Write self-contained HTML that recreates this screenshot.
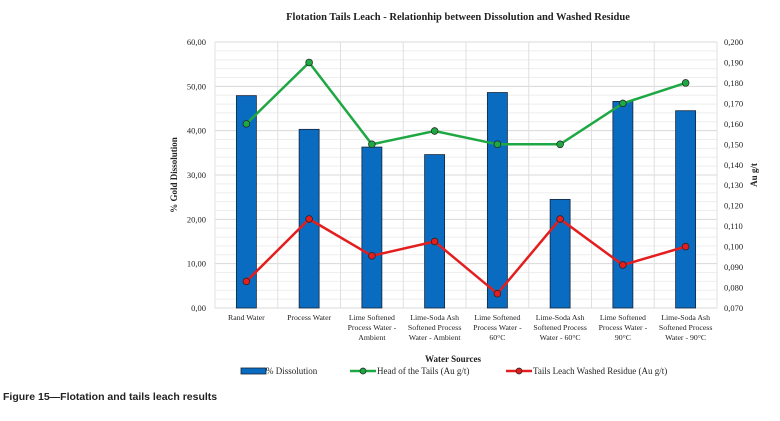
<!DOCTYPE html>
<html><head><meta charset="utf-8"><style>
body{margin:0;background:#fff;width:780px;height:421px;overflow:hidden}
svg{display:block}
.s{font-family:"Liberation Serif",serif;fill:#222}
</style></head><body>
<svg id="c" width="780" height="421"></svg>
<script>
const categories=[["Rand Water"],["Process Water"],["Lime Softened","Process Water -","Ambient"],["Lime-Soda Ash","Softened Process","Water - Ambient"],["Lime Softened","Process Water -","60°C"],["Lime-Soda Ash","Softened Process","Water - 60°C"],["Lime Softened","Process Water -","90°C"],["Lime-Soda Ash","Softened Process","Water - 90°C"]];
const dissolution=[47.9,40.3,36.3,34.6,48.6,24.5,46.6,44.5];
const headTails=[0.160,0.190,0.150,0.1565,0.150,0.150,0.170,0.180];
const residue=[0.083,0.1135,0.0955,0.1025,0.077,0.1135,0.091,0.100];
const leftTicks=["0,00","10,00","20,00","30,00","40,00","50,00","60,00"];
const rightTicks=["0,070","0,080","0,090","0,100","0,110","0,120","0,130","0,140","0,150","0,160","0,170","0,180","0,190","0,200"];

const svg=document.getElementById('c');const NS='http://www.w3.org/2000/svg';
function mk(t,a,p){const e=document.createElementNS(NS,t);for(const k in a)e.setAttribute(k,a[k]);(p||svg).appendChild(e);return e;}
const X0=215,X1=717,Y0=308,Y1=42,bw=(X1-X0)/categories.length;
const yL=v=>Y0-(v/60)*(Y0-Y1);
const yR=v=>Y0-((v-0.07)/0.13)*(Y0-Y1);
const xC=i=>X0+bw*(i+0.5);
for(let k=0;k<=30;k++){const y=Y0-k*(Y0-Y1)/30;const g=mk('line',{x1:X0,x2:X1,y1:y,y2:y,stroke:k%5==0?'#d8d8d8':'#eeeeee','stroke-width':1});}
for(let i=0;i<=categories.length;i++){const x=X0+i*bw;const g=mk('line',{x1:x,x2:x,y1:Y1,y2:Y0,stroke:'#e0e0e0'});}
let t=mk('text',{x:458,y:20,'text-anchor':'middle',class:'s','font-size':'10.5','font-weight':'bold'});t.textContent='Flotation Tails Leach - Relationhip between Dissolution and Washed Residue';

leftTicks.forEach((l,i)=>{const e=mk('text',{x:206,y:yL(i*10)+3,'text-anchor':'end',class:'s','font-size':'8.5'});e.textContent=l;});
rightTicks.forEach((l,i)=>{const e=mk('text',{x:724,y:yR(0.07+i*0.01)+3,class:'s','font-size':'8.5'});e.textContent=l;});
t=mk('text',{x:0,y:0,transform:'translate(177,175) rotate(-90)','text-anchor':'middle',class:'s','font-size':'9','font-weight':'bold'});t.textContent='% Gold Dissolution';
t=mk('text',{x:0,y:0,transform:'translate(757,175) rotate(-90)','text-anchor':'middle',class:'s','font-size':'9','font-weight':'bold'});t.textContent='Au g/t';
dissolution.forEach((v,i)=>{const b=mk('rect',{x:xC(i)-10,y:yL(v),width:20,height:Y0-yL(v),fill:'#0a6cc0',stroke:'#13243a','stroke-width':0.8});});
function line(arr,col,name){const p=mk('polyline',{points:arr.map((v,i)=>xC(i)+','+yR(v)).join(' '),fill:'none',stroke:col,'stroke-width':2.5});
arr.forEach((v,i)=>{const c=mk('circle',{cx:xC(i),cy:yR(v),r:3.4,fill:col,stroke:'#222','stroke-width':0.7});});}
line(headTails,'#1ea843','head-tails');
line(residue,'#e41e1e','residue');
categories.forEach((ls,i)=>ls.forEach((l,j)=>{const e=mk('text',{x:xC(i),y:320+j*10,'text-anchor':'middle',class:'s','font-size':'7.8'});e.textContent=l;}));
t=mk('text',{x:453,y:362,'text-anchor':'middle',class:'s','font-size':'9','font-weight':'bold'});t.textContent='Water Sources';
let g=mk('g',{});
mk('rect',{x:241,y:368,width:25,height:6,fill:'#0a6cc0',stroke:'#13243a','stroke-width':0.8},g);
t=mk('text',{x:266,y:374,class:'s','font-size':'9'},g);t.textContent='% Dissolution';
g=mk('g',{});
mk('line',{x1:350,x2:376,y1:371,y2:371,stroke:'#1ea843','stroke-width':2.5},g);mk('circle',{cx:363,cy:371,r:3,fill:'#1ea843',stroke:'#222','stroke-width':0.7},g);
t=mk('text',{x:377,y:374,class:'s','font-size':'9'},g);t.textContent='Head of the Tails (Au g/t)';
g=mk('g',{});
mk('line',{x1:506,x2:532,y1:371,y2:371,stroke:'#e41e1e','stroke-width':2.5},g);mk('circle',{cx:519,cy:371,r:3,fill:'#e41e1e',stroke:'#222','stroke-width':0.7},g);
t=mk('text',{x:533,y:374,class:'s','font-size':'9'},g);t.textContent='Tails Leach Washed Residue (Au g/t)';
t=mk('text',{x:3,y:400,'font-family':'Liberation Sans, sans-serif','font-size':'10.5','font-weight':'bold',fill:'#222'});t.textContent='Figure 15\u2014Flotation and tails leach results';
</script></body></html>
